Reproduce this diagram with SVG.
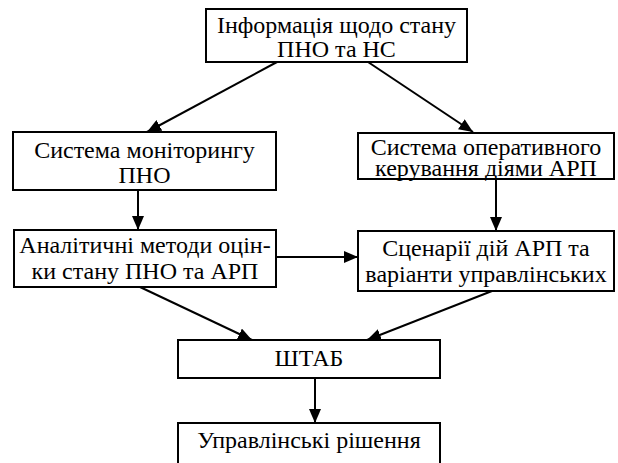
<svg xmlns="http://www.w3.org/2000/svg" width="618" height="463" viewBox="0 0 618 463">
<style>
.box{fill:#fff;stroke:#000;stroke-width:2}
.c{stroke:#000;stroke-width:2;fill:none;marker-end:url(#ah)}
</style>
<defs>
<marker id="ah" markerWidth="14" markerHeight="12" refX="14" refY="6" orient="auto" markerUnits="userSpaceOnUse">
<path d="M0,0 L14,6 L0,12 Z" fill="#000"/>
</marker>
</defs>
<rect width="618" height="463" fill="#fff"/>
<g id="connectors">
<line class="c" x1="277" y1="62" x2="147" y2="132"/>
<line class="c" x1="368" y1="62" x2="473" y2="132"/>
<line class="c" x1="138" y1="190" x2="138" y2="230"/>
<line class="c" x1="496" y1="179" x2="496" y2="231"/>
<line class="c" x1="276" y1="257" x2="358" y2="257"/>
<line class="c" x1="140" y1="287" x2="252" y2="340"/>
<line class="c" x1="492" y1="291" x2="367" y2="340"/>
<line class="c" x1="315" y1="378" x2="315" y2="423"/>
</g>
<g font-family="Liberation Serif" font-size="24" text-anchor="middle" fill="#000">
<g id="n1">
<rect class="box" x="206" y="9" width="261" height="53"/>
<text x="336.5" y="33">Інформація щодо стану</text>
<text x="336.5" y="57">ПНО та НС</text>
</g>
<g id="n2">
<rect class="box" x="13" y="132" width="263" height="58"/>
<text x="144.5" y="158">Система моніторингу</text>
<text x="144.5" y="183">ПНО</text>
</g>
<g id="n3">
<rect class="box" x="358" y="133" width="256" height="46"/>
<text x="486" y="155">Система оперативного</text>
<text x="486" y="176">керування діями АРП</text>
</g>
<g id="n4">
<rect class="box" x="14" y="230" width="262" height="57"/>
<text x="145" y="253">Аналітичні методи оцін-</text>
<text x="145" y="279">ки стану ПНО та АРП</text>
</g>
<g id="n5">
<rect class="box" x="358" y="231" width="256" height="60"/>
<text x="486" y="256">Сценарії дій АРП та</text>
<text x="486" y="282">варіанти управлінських</text>
</g>
<g id="n6">
<rect class="box" x="178" y="340" width="262" height="38"/>
<text x="309" y="366">ШТАБ</text>
</g>
<g id="n7">
<rect class="box" x="178" y="423" width="262" height="50"/>
<text x="309" y="448">Управлінські рішення</text>
</g>
</g>
</svg>
